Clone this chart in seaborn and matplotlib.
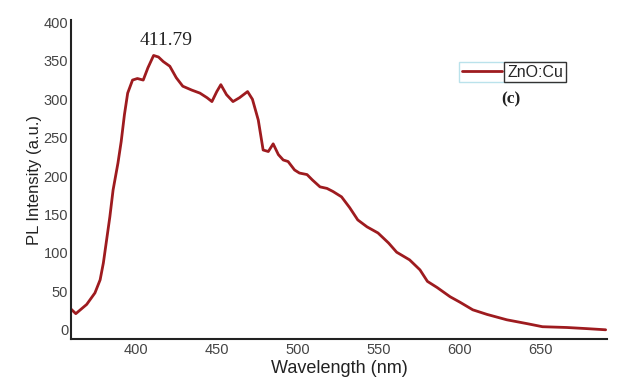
import matplotlib
matplotlib.use("Agg")
import matplotlib.pyplot as plt
import seaborn as sns
import pandas as pd

# PL spectrum of ZnO:Cu
wavelength = [360, 363, 369.7, 374.8, 378, 380, 382, 384, 386, 389, 391, 393, 395,
              398, 401, 404.6, 407.5, 411, 414, 417, 421, 425, 429, 434.5, 439.6,
              444, 447, 450, 452.5, 456, 460, 464, 469, 472, 475.6, 478.6, 481.8,
              484.8, 488, 491, 494, 498, 501, 505.7, 509, 513.7, 518, 521.7, 527,
              532, 537, 542.7, 549.5, 556, 561, 569, 575.4, 580, 586, 594, 600,
              608, 616.8, 629, 641.5, 651, 666, 678.5, 690]
intensity = [27, 21, 33, 48, 65, 87, 117, 147, 182, 217, 245, 280, 308,
             325, 327, 325, 341, 357, 355, 349, 343, 328, 317, 312, 308,
             302, 297, 310, 319, 306, 297, 302, 310, 300, 273, 234, 232,
             242, 228, 221, 219, 208, 204, 202, 195, 186, 184, 180, 173,
             159, 143, 134, 126, 113, 101, 91, 78, 63, 55, 43, 36,
             26, 20, 13, 8, 4, 3, 1.5, 0]
series_label = "ZnO:Cu"
peak_label = "411.79"

df = pd.DataFrame({"Wavelength": wavelength, "Intensity": intensity})

sns.set_style("white")
plt.rcParams["font.family"] = ["Liberation Sans", "DejaVu Sans"]

fig = plt.figure(figsize=(6.28, 3.87), dpi=100)
ax = fig.add_axes([0.113, 0.124, 0.854, 0.824])

sns.lineplot(data=df, x="Wavelength", y="Intensity", ax=ax, color="#9e1b1f",
             linewidth=2, label=series_label)
for ln in ax.get_lines():
    ln.set_solid_joinstyle("round")

ax.set_xlim(360, 691)
ax.set_ylim(-12, 403)
ax.set_xticks([400, 450, 500, 550, 600, 650])
ax.set_yticks([0, 50, 100, 150, 200, 250, 300, 350, 400])
ax.tick_params(axis="both", length=2, width=1, color="#222222",
               labelsize=10.5, labelcolor="#444444")
ax.tick_params(axis="y", pad=0)
ax.tick_params(axis="x", pad=1)
ax.set_xlabel("Wavelength (nm)", fontsize=13, color="#222222", labelpad=2)
ax.set_ylabel("PL Intensity (a.u.)", fontsize=12, color="#222222", labelpad=1)

sns.despine(ax=ax)
for side in ["left", "bottom"]:
    ax.spines[side].set_color("#222222")
    ax.spines[side].set_linewidth(1.5)

ax.text(419, 377, peak_label, ha="center", va="center", fontsize=14,
        family="Liberation Serif", color="#222222")

leg = ax.legend(loc="upper left", bbox_to_anchor=(0.724, 0.868), frameon=True,
                fancybox=False, edgecolor="#a9dbe6", borderpad=0.15,
                handlelength=2.5, handletextpad=0.35, borderaxespad=0,
                fontsize=11.5)
leg.get_frame().set_linewidth(1.0)
for t in leg.get_texts():
    t.set_bbox(dict(facecolor="white", edgecolor="#333333", linewidth=1.0, pad=2.0))

ax.text(0.82, 0.752, "(c)", transform=ax.transAxes, ha="center", va="center",
        fontsize=12.5, fontweight="bold", family="Liberation Serif", color="#222222")

fig.savefig("out.png", dpi=100)
